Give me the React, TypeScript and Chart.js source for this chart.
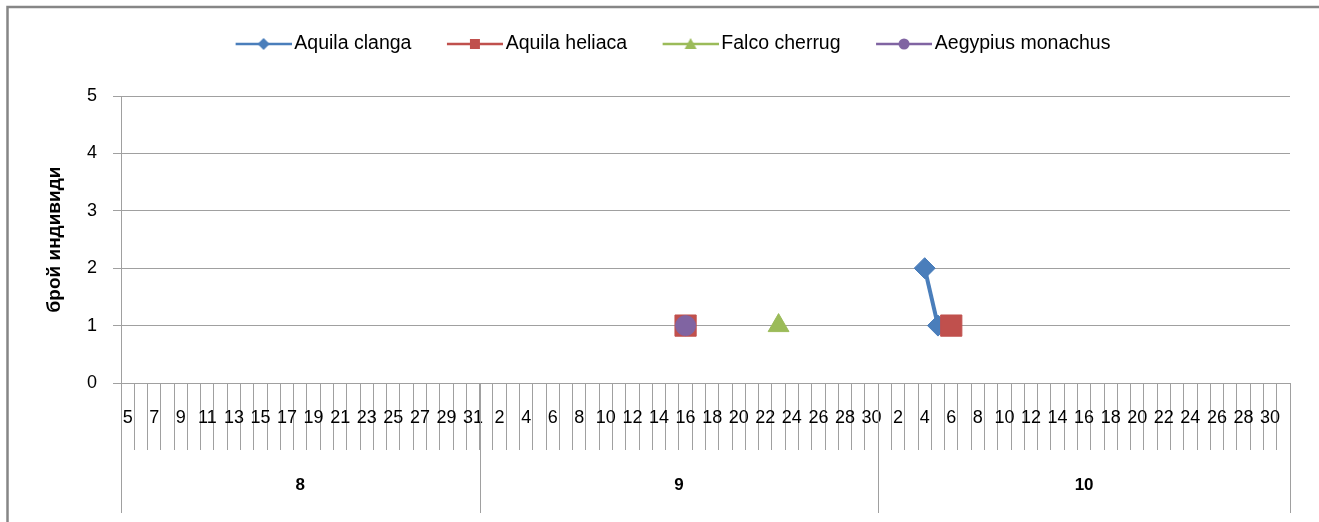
import React, { useEffect, useRef } from 'react';
import { Chart, registerables } from 'chart.js';

Chart.register(...registerables);

// ---- data ----
const monthLabels = ['8', '9', '10'];
const monthFirstDays = [5, 1, 1];
const monthLastDays = [31, 30, 31];

const seriesNames = ['Aquila clanga', 'Aquila heliaca', 'Falco cherrug', 'Aegypius monachus'];
const aquilaClangaDates = ['10-4', '10-5'];
const aquilaClangaCounts = [2, 1];
const aquilaHeliacaDates = ['9-16', '10-6'];
const aquilaHeliacaCounts = [1, 1];
const falcoCherrugDates = ['9-23'];
const falcoCherrugCounts = [1];
const aegypiusMonachusDates = ['9-16'];
const aegypiusMonachusCounts = [1];

const yTickValues = [0, 1, 2, 3, 4, 5];
const yAxisTitle = 'брой индивиди';

// ---- derived categories ----
const categoryKeys: string[] = [];
const dayLabels: string[] = [];
const monthGroups: { label: string; start: number; count: number }[] = [];
monthLabels.forEach((m, mi) => {
  const start = categoryKeys.length;
  for (let d = monthFirstDays[mi]; d <= monthLastDays[mi]; d++) {
    categoryKeys.push(`${m}-${d}`);
    dayLabels.push(String(d));
  }
  monthGroups.push({ label: m, start, count: categoryKeys.length - start });
});

const toSeries = (dates: string[], counts: number[]) =>
  categoryKeys.map((k) => {
    const i = dates.indexOf(k);
    return i >= 0 ? counts[i] : null;
  });

// ---- styles ----
const FONT = '"Liberation Sans", Arial, sans-serif';
const NARROW = '"Liberation Sans Narrow", "Liberation Sans", Arial, sans-serif';
const GRID = '#a0a0a0';
const COLORS = ['#4A7EBB', '#C0504D', '#9BBB59', '#8064A2'];
const STYLES = ['rectRot', 'rect', 'triangle', 'circle'];
const RADII = [10.5, 15, 12, 10];

function makeLegendIcon(color: string, style: string): HTMLCanvasElement {
  const c = document.createElement('canvas');
  c.width = 90;
  c.height = 22;
  const ctx = c.getContext('2d')!;
  const cy = 11;
  ctx.strokeStyle = color;
  ctx.lineWidth = 2.5;
  ctx.beginPath();
  ctx.moveTo(34, cy);
  ctx.lineTo(90, cy);
  ctx.stroke();
  ctx.fillStyle = color;
  const mx = 62;
  ctx.beginPath();
  if (style === 'rectRot') {
    const r = 6;
    ctx.moveTo(mx - r, cy);
    ctx.lineTo(mx, cy - r);
    ctx.lineTo(mx + r, cy);
    ctx.lineTo(mx, cy + r);
    ctx.closePath();
  } else if (style === 'rect') {
    ctx.rect(mx - 5, cy - 5, 10, 10);
  } else if (style === 'triangle') {
    ctx.moveTo(mx, cy - 6);
    ctx.lineTo(mx + 6, cy + 5);
    ctx.lineTo(mx - 6, cy + 5);
    ctx.closePath();
  } else {
    ctx.arc(mx, cy, 5.5, 0, Math.PI * 2);
  }
  ctx.fill();
  return c;
}

const framePlugin = {
  id: 'frame',
  beforeDraw(chart: any) {
    const ctx = chart.ctx;
    ctx.save();
    ctx.fillStyle = '#ffffff';
    ctx.fillRect(0, 0, chart.width, chart.height);
    ctx.strokeStyle = '#868686';
    ctx.lineWidth = 2.5;
    ctx.strokeRect(7.5, 7, chart.width + 20, chart.height + 20);
    ctx.restore();
  },
};

const monthAxisPlugin = {
  id: 'monthAxis',
  afterDraw(chart: any) {
    const xs = chart.scales.x;
    const ca = chart.chartArea;
    const ctx = chart.ctx;
    const half = (xs.getPixelForValue(1) - xs.getPixelForValue(0)) / 2;
    ctx.save();
    ctx.strokeStyle = GRID;
    ctx.lineWidth = 1;
    ctx.fillStyle = '#000';
    ctx.font = `bold 17px ${FONT}`;
    ctx.textAlign = 'center';
    ctx.textBaseline = 'middle';
    monthGroups.forEach((g) => {
      const l = xs.getPixelForValue(g.start) - half;
      const r = xs.getPixelForValue(g.start + g.count - 1) + half;
      [l, r].forEach((px) => {
        const xx = Math.round(px) + 0.5;
        ctx.beginPath();
        ctx.moveTo(xx, ca.bottom);
        ctx.lineTo(xx, ca.bottom + 130);
        ctx.stroke();
      });
      ctx.fillText(g.label, (l + r) / 2, ca.bottom + 102);
    });
    ctx.restore();
  },
};

export default function App() {
  const ref = useRef<HTMLCanvasElement>(null);

  useEffect(() => {
    document.body.style.margin = '0';
    const seriesData = [
      toSeries(aquilaClangaDates, aquilaClangaCounts),
      toSeries(aquilaHeliacaDates, aquilaHeliacaCounts),
      toSeries(falcoCherrugDates, falcoCherrugCounts),
      toSeries(aegypiusMonachusDates, aegypiusMonachusCounts),
    ];
    const drawOrder = [3, 1, 2, 0];
    const icons = seriesNames.map((_, i) => makeLegendIcon(COLORS[i], STYLES[i]));

    const chart = new Chart(ref.current!, {
      type: 'line',
      data: {
        labels: dayLabels,
        datasets: seriesNames.map((name, i) => ({
          label: name,
          data: seriesData[i],
          borderColor: COLORS[i],
          backgroundColor: COLORS[i],
          borderWidth: 4,
          pointStyle: STYLES[i] as any,
          pointRadius: RADII[i],
          pointBackgroundColor: COLORS[i],
          pointBorderColor: COLORS[i],
          pointBorderWidth: 1,
          spanGaps: false,
          order: drawOrder[i],
        })),
      },
      options: {
        animation: false,
        responsive: false,
        events: [],
        layout: { padding: { top: 25.75, left: 0, right: 0, bottom: 0 } },
        plugins: {
          legend: {
            position: 'top',
            align: 'center',
            labels: {
              usePointStyle: true,
              pointStyleWidth: 76,
              padding: 8.5,
              color: '#000',
              font: { family: FONT, size: 19.5 },
              generateLabels: (ch: any) =>
                ch.data.datasets.map((ds: any, i: number) => ({
                  text: ds.label,
                  pointStyle: icons[i],
                  fillStyle: COLORS[i],
                  strokeStyle: COLORS[i],
                  lineWidth: 0,
                  hidden: false,
                  datasetIndex: i,
                  fontColor: '#000',
                })),
            },
          },
          subtitle: {
            display: true,
            text: ' ',
            weight: 500,
            padding: 0,
            font: { size: 10, lineHeight: '32.25px' },
          } as any,
          tooltip: { enabled: false },
        },
        scales: {
          x: {
            type: 'category',
            offset: true,
            grid: {
              offset: true,
              drawOnChartArea: false,
              drawTicks: true,
              tickLength: 67,
              color: GRID,
            },
            border: { display: true, color: GRID },
            ticks: {
              autoSkip: false,
              maxRotation: 0,
              minRotation: 0,
              padding: -43,
              color: '#000',
              font: { family: NARROW, size: 18 },
              callback: (_v: any, index: number) => (index % 2 === 0 ? dayLabels[index] : ''),
            },
            afterFit: (s: any) => {
              s.height = 139;
            },
          },
          y: {
            min: yTickValues[0],
            max: yTickValues[yTickValues.length - 1],
            ticks: {
              stepSize: 1,
              padding: 16,
              color: '#000',
              font: { family: FONT, size: 18 },
            },
            grid: { color: GRID, tickLength: 8 },
            border: { color: GRID },
            title: {
              display: true,
              text: yAxisTitle,
              color: '#000',
              font: { family: FONT, size: 19, weight: 'bold' },
              padding: { top: 43.5, bottom: 0 },
            },
            afterFit: (s: any) => {
              s.width = 121;
            },
          },
          y2: {
            position: 'right',
            display: true,
            grid: { display: false },
            ticks: { display: false },
            border: { display: false },
            afterFit: (s: any) => {
              s.width = 29;
            },
          },
        },
      } as any,
      plugins: [framePlugin, monthAxisPlugin],
    });
    return () => chart.destroy();
  }, []);

  return (
    <div style={{ width: 1319, height: 522 }}>
      <canvas ref={ref} width={1319} height={522} style={{ display: 'block' }} />
    </div>
  );
}
